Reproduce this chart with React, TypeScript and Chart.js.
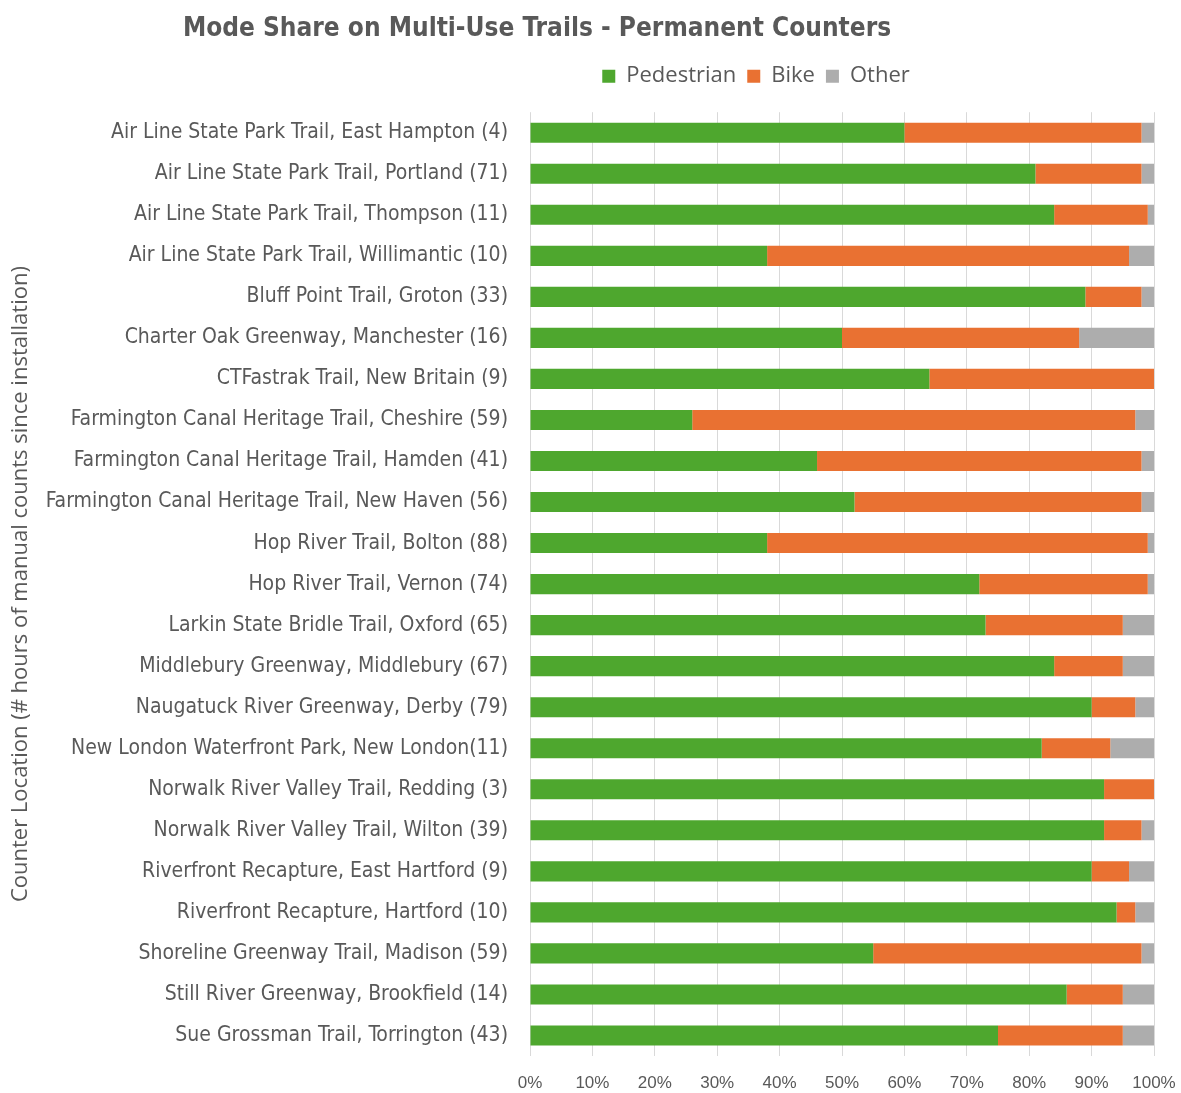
import { useEffect, useRef } from 'react';
import { Chart, registerables } from 'chart.js';

Chart.register(...registerables);

const categories = [
  'Air Line State Park Trail, East Hampton (4)',
  'Air Line State Park Trail, Portland (71)',
  'Air Line State Park Trail, Thompson (11)',
  'Air Line State Park Trail, Willimantic (10)',
  'Bluff Point Trail, Groton (33)',
  'Charter Oak Greenway, Manchester (16)',
  'CTFastrak Trail, New Britain (9)',
  'Farmington Canal Heritage Trail, Cheshire (59)',
  'Farmington Canal Heritage Trail, Hamden (41)',
  'Farmington Canal Heritage Trail, New Haven (56)',
  'Hop River Trail, Bolton (88)',
  'Hop River Trail, Vernon (74)',
  'Larkin State Bridle Trail, Oxford (65)',
  'Middlebury Greenway, Middlebury (67)',
  'Naugatuck River Greenway, Derby (79)',
  'New London Waterfront Park, New London(11)',
  'Norwalk River Valley Trail, Redding (3)',
  'Norwalk River Valley Trail, Wilton (39)',
  'Riverfront Recapture, East Hartford (9)',
  'Riverfront Recapture, Hartford (10)',
  'Shoreline Greenway Trail, Madison (59)',
  'Still River Greenway, Brookfield (14)',
  'Sue Grossman Trail, Torrington (43)',
];

const pedestrian = [60, 81, 84, 38, 89, 50, 64, 26, 46, 52, 38, 72, 73, 84, 90, 82, 92, 92, 90, 94, 55, 86, 75];
const bike = [38, 17, 15, 58, 9, 38, 36, 71, 52, 46, 61, 27, 22, 11, 7, 11, 8, 6, 6, 3, 43, 9, 20];
const other = [2, 2, 1, 4, 2, 12, 0, 3, 2, 2, 1, 1, 5, 5, 3, 7, 0, 2, 4, 3, 2, 5, 5];

const seriesNames = ['Pedestrian', 'Bike', 'Other'];
const seriesColors = ['#4EA72E', '#E97132', '#ADADAD'];

const titleText = 'Mode Share on Multi-Use Trails - Permanent Counters';
const yAxisTitle = 'Counter Location (# hours of manual counts since installation)';

const TEXT = '#595959';
const NARROW = '"DejaVu Sans Condensed", "Liberation Sans Narrow", sans-serif';

const placeHeader = {
  id: 'placeHeader',
  beforeDraw(chart: any) {
    const t = chart.titleBlock;
    if (t) {
      const half = 420;
      t.left = 537 - half;
      t.right = 537 + half;
    }
    const l = chart.legend;
    if (l) {
      const w = 600;
      l.left = 756 - w / 2;
      l.right = 756 + w / 2;
    }
  },
};

export default function App() {
  const ref = useRef<HTMLCanvasElement>(null);

  useEffect(() => {
    if (!ref.current) return;
    const datasets = [pedestrian, bike, other].map((d, i) => ({
      label: seriesNames[i],
      data: d,
      backgroundColor: seriesColors[i],
      borderWidth: 0,
      categoryPercentage: 1,
      barPercentage: 0.49,
      xAxisID: 'x',
    }));
    const chart = new Chart(ref.current, {
      type: 'bar',
      data: { labels: categories, datasets },
      plugins: [placeHeader],
      options: {
        indexAxis: 'y',
        animation: false,
        responsive: false,
        maintainAspectRatio: false,
        layout: { padding: { top: 6, left: 0, right: 27, bottom: 0 } },
        plugins: {
          title: {
            display: true,
            text: titleText,
            color: TEXT,
            font: { family: NARROW, size: 26, weight: 'bold' },
            padding: { top: 8, bottom: 9 },
          },
          legend: {
            display: true,
            position: 'top',
            labels: {
              color: TEXT,
              font: { family: '"Open Sans", sans-serif', size: 22 },
              boxWidth: 13,
              boxHeight: 13,
              padding: 11,
            },
          },
          tooltip: { enabled: false },
        },
        scales: {
          x: {
            type: 'linear',
            position: 'bottom',
            stacked: true,
            min: 0,
            max: 100,
            ticks: {
              stepSize: 10,
              color: TEXT,
              padding: 3,
              font: { family: '"Liberation Sans", Arial, sans-serif', size: 17, lineHeight: 14 / 17 },
              callback: (v: any) => v + '%',
            },
            grid: { color: '#D9D9D9', lineWidth: 1, drawTicks: true, tickLength: 17, tickColor: 'rgba(0,0,0,0)' },
            border: { display: false },
          },
          gap: {
            type: 'linear',
            position: 'top',
            display: true,
            ticks: { display: false },
            grid: { display: false, drawTicks: false },
            border: { display: false },
            afterFit: (s: any) => { s.height = 15; },
          },
          y: {
            type: 'category',
            stacked: true,
            ticks: {
              color: TEXT,
              padding: 22,
              font: { family: NARROW, size: 21 },
            },
            grid: { display: false, drawTicks: false },
            border: { display: false },
            title: {
              display: true,
              text: yAxisTitle,
              color: TEXT,
              font: { family: '"Open Sans", sans-serif', size: 22 },
              padding: { top: 8, bottom: 0 },
            },
            afterFit: (s: any) => { s.width = 530; },
          },
        },
      } as any,
    });
    return () => chart.destroy();
  }, []);

  return (
    <div style={{ position: 'absolute', left: 0, top: 0, width: 1181, height: 1093, background: '#fff' }}>
      <canvas ref={ref} width={1181} height={1093} />
    </div>
  );
}
